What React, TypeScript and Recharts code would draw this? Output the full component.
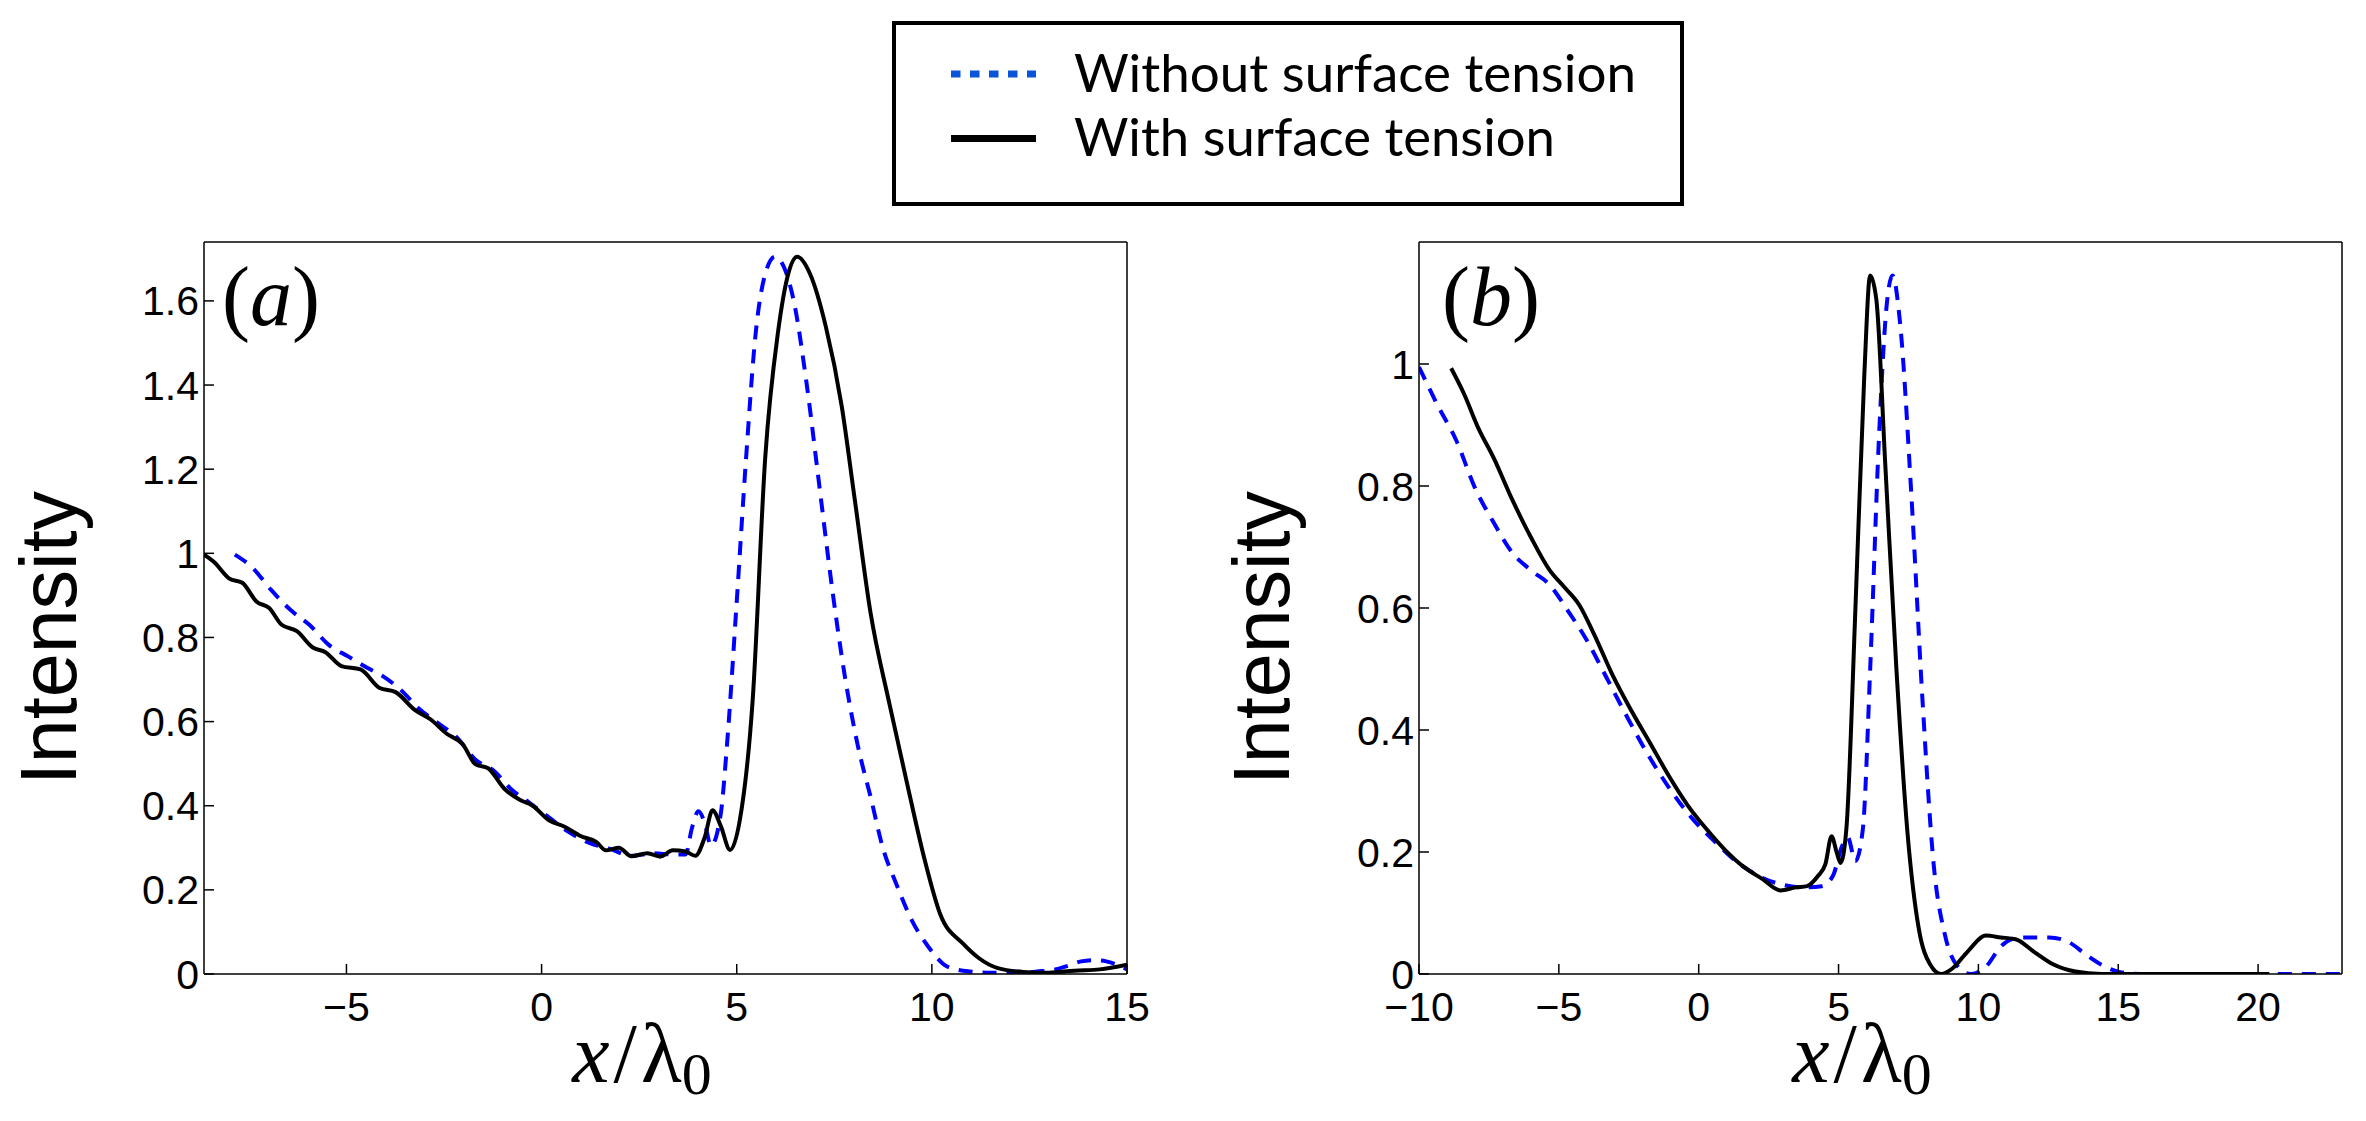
import React from "react";
import { LineChart, Line, XAxis, YAxis } from "recharts";

const seriesNames = ["Without surface tension", "With surface tension"];

// panel (a)
const aWithoutX = [-7.86, -7.42, -6.93, -6.43, -5.95, -5.46, -4.96, -4.47, -4.07, -3.58, -3.17, -2.68, -2.19, -1.7, -1.21, -0.8, -0.31, 0.18, 0.67, 1.24, 1.73, 2.3, 2.87, 3.36, 3.69, 3.85, 4.02, 4.18, 4.34, 4.59, 4.75, 5.0, 5.24, 5.49, 5.73, 5.98, 6.22, 6.47, 6.79, 7.12, 7.45, 7.77, 8.1, 8.43, 8.75, 9.08, 9.49, 9.9, 10.39, 10.88, 11.53, 12.18, 12.84, 13.13, 13.5, 13.82, 14.14, 14.47, 14.8, 15.0];
const aWithoutY = [0.997, 0.967, 0.913, 0.865, 0.83, 0.783, 0.755, 0.728, 0.708, 0.673, 0.633, 0.598, 0.564, 0.51, 0.482, 0.441, 0.407, 0.373, 0.339, 0.311, 0.298, 0.281, 0.287, 0.284, 0.284, 0.346, 0.387, 0.359, 0.305, 0.38, 0.544, 0.885, 1.227, 1.527, 1.664, 1.705, 1.678, 1.596, 1.404, 1.158, 0.913, 0.708, 0.544, 0.421, 0.298, 0.216, 0.127, 0.066, 0.018, 0.007, 0.003, 0.003, 0.007, 0.01, 0.02, 0.03, 0.033, 0.03, 0.02, 0.011];
const aWithX = [-8.65, -8.4, -8.0, -7.67, -7.3, -6.98, -6.66, -6.27, -5.86, -5.54, -5.13, -4.64, -4.15, -3.74, -3.25, -2.84, -2.43, -2.02, -1.7, -1.37, -0.96, -0.56, -0.23, 0.18, 0.59, 1.0, 1.4, 1.65, 1.98, 2.3, 2.71, 3.04, 3.36, 3.69, 3.94, 4.18, 4.38, 4.59, 4.83, 5.08, 5.41, 5.73, 6.06, 6.3, 6.55, 6.88, 7.28, 7.69, 8.02, 8.43, 8.92, 9.41, 9.82, 10.22, 10.8, 11.2, 11.69, 12.35, 13.0, 13.65, 14.3, 15.0];
const aWithY = [0.997, 0.98, 0.94, 0.93, 0.885, 0.87, 0.83, 0.815, 0.776, 0.765, 0.732, 0.724, 0.68, 0.67, 0.628, 0.605, 0.571, 0.546, 0.499, 0.489, 0.441, 0.414, 0.4, 0.366, 0.35, 0.328, 0.314, 0.294, 0.3, 0.28, 0.287, 0.279, 0.294, 0.291, 0.281, 0.325, 0.389, 0.352, 0.295, 0.366, 0.653, 1.227, 1.527, 1.657, 1.705, 1.664, 1.54, 1.35, 1.131, 0.858, 0.639, 0.434, 0.27, 0.141, 0.072, 0.038, 0.014, 0.005, 0.003, 0.008, 0.011, 0.022];

// panel (b)
const bWithoutX = [-10, -9.33, -8.67, -8.0, -7.33, -6.67, -6.0, -5.33, -4.67, -4.0, -3.33, -2.67, -1.87, -1.07, -0.27, 0.53, 1.33, 2.13, 2.93, 3.73, 4.4, 4.8, 5.12, 5.33, 5.6, 5.87, 6.13, 6.45, 6.72, 6.93, 7.2, 7.6, 8.0, 8.4, 8.8, 9.2, 9.73, 10.27, 10.8, 11.47, 12.53, 13.2, 13.87, 14.53, 15.2, 16.0, 23.0];
const bWithoutY = [0.995, 0.932, 0.875, 0.797, 0.74, 0.691, 0.662, 0.638, 0.595, 0.547, 0.489, 0.431, 0.364, 0.306, 0.257, 0.219, 0.185, 0.161, 0.147, 0.142, 0.144, 0.161, 0.209, 0.224, 0.185, 0.238, 0.499, 0.884, 1.096, 1.145, 1.067, 0.788, 0.45, 0.18, 0.065, 0.016, 0.0, 0.012, 0.045, 0.06, 0.06, 0.053, 0.031, 0.012, 0.002, 0.0, 0.0];
const bWithX = [-8.85, -8.4, -7.87, -7.33, -6.67, -6.0, -5.33, -4.8, -4.27, -3.73, -3.07, -2.4, -1.73, -1.07, -0.4, 0.27, 0.93, 1.6, 2.27, 2.93, 3.47, 3.87, 4.27, 4.53, 4.75, 4.93, 5.07, 5.28, 5.6, 5.92, 6.13, 6.35, 6.67, 7.07, 7.47, 7.87, 8.27, 8.67, 9.07, 9.6, 10.27, 10.8, 11.33, 12.0, 12.67, 13.47, 14.4, 20.4];
const bWithY = [0.993, 0.952, 0.894, 0.846, 0.778, 0.716, 0.662, 0.634, 0.605, 0.556, 0.489, 0.431, 0.378, 0.325, 0.277, 0.238, 0.204, 0.176, 0.156, 0.137, 0.142, 0.144, 0.161, 0.18, 0.226, 0.2, 0.182, 0.238, 0.595, 0.981, 1.145, 1.106, 0.836, 0.499, 0.229, 0.074, 0.016, 0.0, 0.009, 0.036, 0.063, 0.06, 0.057, 0.036, 0.016, 0.004, 0.0, 0.0];

const aXTicks = [-5, 0, 5, 10, 15];
const aYTicks = [0, 0.2, 0.4, 0.6, 0.8, 1, 1.2, 1.4, 1.6];
const bXTicks = [-10, -5, 0, 5, 10, 15, 20];
const bYTicks = [0, 0.2, 0.4, 0.6, 0.8, 1];

const zip = (xs: number[], ys: number[]) => xs.map((x, i) => ({ x, y: ys[i] }));
const fmt = (v: number) => String(v).replace("-", "\u2212");

const SANS = "'Liberation Sans', Arial, sans-serif";
const SERIF = "'Liberation Serif', 'Times New Roman', serif";
const BLUE = "#0000ff";

type PanelProps = {
  left: number;
  width: number;
  yAxisWidth: number;
  marginRight: number;
  xDomain: [number, number];
  xTicks: number[];
  yDomain: [number, number];
  yTicks: number[];
  without: { x: number; y: number }[];
  withST: { x: number; y: number }[];
};

function Panel(p: PanelProps) {
  const tickFont = { fontSize: 41, fontFamily: SANS, fill: "#000" };
  const line = { stroke: "#000", strokeWidth: 1.5 };
  return (
    <div style={{ position: "absolute", left: p.left, top: 0 }}>
      <LineChart width={p.width} height={1121} margin={{ top: 241, right: p.marginRight - 1, bottom: 0, left: 0 }}>
        <XAxis xAxisId="b" type="number" dataKey="x" domain={p.xDomain} ticks={p.xTicks} allowDataOverflow
          height={147} tickSize={-10} tickMargin={28} tick={tickFont} tickFormatter={fmt}
          axisLine={line} tickLine={line} interval={0} />
        <XAxis xAxisId="t" orientation="top" type="number" dataKey="x" domain={p.xDomain} ticks={p.xTicks}
          allowDataOverflow height={1} tickSize={-10} tick={false} axisLine={line} tickLine={line} interval={0} />
        <YAxis yAxisId="l" type="number" domain={p.yDomain} ticks={p.yTicks} allowDataOverflow
          width={p.yAxisWidth} tickSize={-10} tickMargin={15} tick={tickFont} tickFormatter={fmt}
          axisLine={line} tickLine={line} interval={0} />
        <YAxis yAxisId="r" orientation="right" type="number" domain={p.yDomain} ticks={p.yTicks}
          allowDataOverflow width={1} tickSize={-10} tick={false} axisLine={line} tickLine={line} interval={0} />
        <Line xAxisId="b" yAxisId="l" data={p.without} dataKey="y" name={seriesNames[0]} type="monotone"
          stroke={BLUE} strokeWidth={4} strokeDasharray="14 10" dot={false} isAnimationActive={false} />
        <Line xAxisId="b" yAxisId="l" data={p.withST} dataKey="y" name={seriesNames[1]} type="monotone"
          stroke="#000" strokeWidth={4} dot={false} isAnimationActive={false} />
      </LineChart>
    </div>
  );
}

function XLabel({ cx }: { cx: number }) {
  return (
    <text x={cx} y={1082} textAnchor="middle" fontFamily={SERIF} fontSize={84} fill="#000">
      <tspan fontStyle="italic">x</tspan>
      <tspan dx={4}>/</tspan>
      <tspan dx={4}>λ</tspan>
      <tspan fontSize={60} dy={12}>0</tspan>
    </text>
  );
}

function YLabel({ x }: { x: number }) {
  return (
    <text x={x} y={638} transform={`rotate(-90 ${x} 638)`} textAnchor="middle" fontFamily={SANS}
      fontSize={79} fill="#000">
      Intensity
    </text>
  );
}

function PanelTag({ x, letter }: { x: number; letter: string }) {
  return (
    <text x={x} y={325} fontFamily={SERIF} fontSize={84} fill="#000">
      (<tspan fontStyle="italic">{letter}</tspan>)
    </text>
  );
}

export default function App() {
  return (
    <div style={{ position: "absolute", left: 0, top: 0, width: 2366, height: 1121, background: "#fff" }}>
      <Panel left={0} width={1200} yAxisWidth={204} marginRight={73} xDomain={[-8.65, 15]} xTicks={aXTicks}
        yDomain={[0, 1.74]} yTicks={aYTicks} without={zip(aWithoutX, aWithoutY)} withST={zip(aWithX, aWithY)} />
      <Panel left={1200} width={1166} yAxisWidth={219} marginRight={24} xDomain={[-10, 23]} xTicks={bXTicks}
        yDomain={[0, 1.2]} yTicks={bYTicks} without={zip(bWithoutX, bWithoutY)} withST={zip(bWithX, bWithY)} />
      <svg width={2366} height={1121} style={{ position: "absolute", left: 0, top: 0, pointerEvents: "none" }}>
        <YLabel x={76} />
        <YLabel x={1289} />
        <XLabel cx={642} />
        <XLabel cx={1862} />
        <PanelTag x={222} letter="a" />
        <PanelTag x={1442} letter="b" />
        <rect x={894} y={23} width={788} height={181} fill="#fff" stroke="#000" strokeWidth={4} />
        <line x1={951} y1={74} x2={1036} y2={74} stroke="#0a55d7" strokeWidth={7} strokeDasharray="9.5 9.5" />
        <line x1={951} y1={138.5} x2={1036} y2={138.5} stroke="#000" strokeWidth={7} />
        <text x={1074} y={92} fontFamily="Lato, 'Open Sans', sans-serif" fontSize={53} fill="#000"
          textLength={562} lengthAdjust="spacingAndGlyphs">
          {seriesNames[0]}
        </text>
        <text x={1074} y={156} fontFamily="Lato, 'Open Sans', sans-serif" fontSize={53} fill="#000"
          textLength={481} lengthAdjust="spacingAndGlyphs">
          {seriesNames[1]}
        </text>
      </svg>
    </div>
  );
}
